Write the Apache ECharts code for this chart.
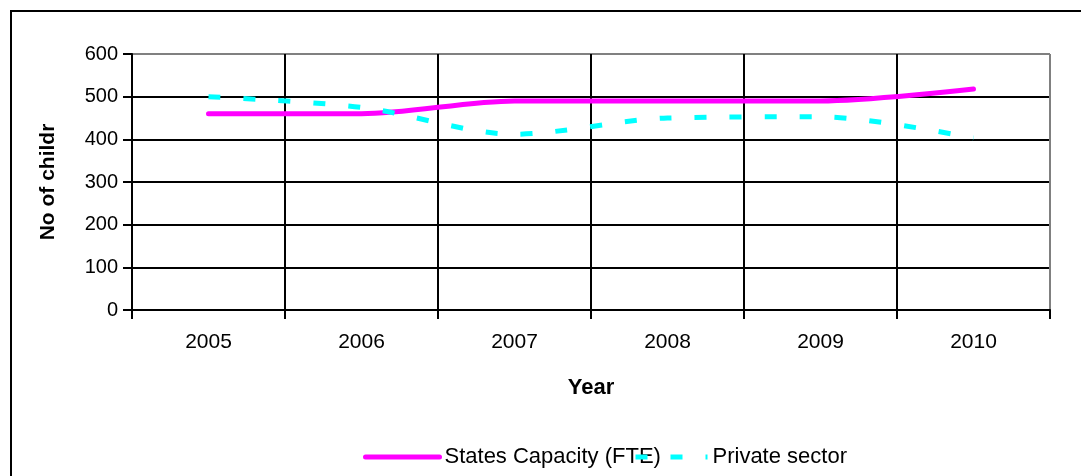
<!DOCTYPE html>
<html>
<head>
<meta charset="utf-8">
<script src="https://cdn.jsdelivr.net/npm/echarts@6/dist/echarts.min.js"></script>
<style>
html,body{margin:0;padding:0;background:#fff;}
#c{width:1081px;height:476px;}
</style>
</head>
<body>
<div id="c"></div>
<script>
const years = ['2005', '2006', '2007', '2008', '2009', '2010'];
const statesCapacity = [460, 460, 490, 490, 490, 518];
const privateSector = [500, 475, 412, 450, 453, 403];
const yTicks = [0, 100, 200, 300, 400, 500, 600];

const FONT = '"Liberation Sans", Arial, sans-serif';
const chart = echarts.init(document.getElementById('c'), null, {renderer: 'canvas'});

const yLineColors = yTicks.map((v, i) => i === yTicks.length - 1 ? '#808080' : '#000000');
const xLineColors = years.concat(['']).map((v, i) => i === years.length ? '#808080' : '#000000');

chart.setOption({
  animation: false,
  backgroundColor: '#ffffff',
  graphic: [{
    type: 'rect',
    shape: {x: 11, y: 11, width: 1100, height: 500},
    style: {fill: 'none', stroke: '#000', lineWidth: 2},
    silent: true,
    z: -10
  }],
  grid: {left: 132, right: 31, top: 54, bottom: 166, containLabel: false},
  legend: [{
    data: ['States Capacity (FTE)'],
    left: 363, top: 446, padding: 0,
    itemWidth: 74, itemHeight: 22, itemGap: 0,
    itemStyle: {opacity: 0},
    lineStyle: {width: 5, color: '#FF00FF', cap: 'round'},
    textStyle: {fontFamily: FONT, fontSize: 22, color: '#000'}
  }, {
    data: ['Private sector'],
    left: 633, top: 446, padding: 0,
    itemWidth: 72, itemHeight: 22, itemGap: 0,
    itemStyle: {opacity: 0},
    lineStyle: {width: 5, color: '#00FFFF', type: [12, 23]},
    textStyle: {fontFamily: FONT, fontSize: 22, color: '#000', width: 137, overflow: 'truncate', ellipsis: ''}
  }],
  xAxis: {
    type: 'category',
    data: years,
    boundaryGap: true,
    name: 'Year',
    nameLocation: 'middle',
    nameGap: 67,
    nameTextStyle: {fontFamily: FONT, fontSize: 22, fontWeight: 'bold', color: '#000', verticalAlign: 'top'},
    axisLine: {show: true, lineStyle: {color: '#000', width: 2}},
    axisTick: {show: true, length: 9, inside: false, alignWithLabel: false, lineStyle: {color: '#000', width: 2}},
    axisLabel: {fontFamily: FONT, fontSize: 21, color: '#000', margin: 22},
    splitLine: {show: true, lineStyle: {color: xLineColors, width: 2}}
  },
  yAxis: {
    type: 'value',
    min: 0, max: 600, interval: 100,
    name: 'No of children',
    nameLocation: 'middle',
    nameGap: 73,
    nameRotate: 90,
    nameTruncate: {maxWidth: 127, ellipsis: ''},
    nameTextStyle: {fontFamily: FONT, fontSize: 21, fontWeight: 'bold', color: '#000'},
    axisLine: {show: true, lineStyle: {color: '#000', width: 2}},
    axisTick: {show: true, length: 9, inside: false, lineStyle: {color: '#000', width: 2}},
    axisLabel: {fontFamily: FONT, fontSize: 20, color: '#000', margin: 14, padding: [0, 0, 8, 0]},
    splitLine: {show: true, lineStyle: {color: yLineColors, width: 2}}
  },
  series: [{
    name: 'States Capacity (FTE)',
    type: 'line',
    data: statesCapacity,
    smooth: 0.3,
    symbol: 'none',
    lineStyle: {color: '#FF00FF', width: 5, cap: 'round'},
    itemStyle: {color: '#FF00FF'},
    z: 3
  }, {
    name: 'Private sector',
    type: 'line',
    data: privateSector,
    smooth: 0.3,
    symbol: 'none',
    lineStyle: {color: '#00FFFF', width: 5, type: [12, 23]},
    itemStyle: {color: '#00FFFF'},
    z: 4
  }]
});
</script>
</body>
</html>
